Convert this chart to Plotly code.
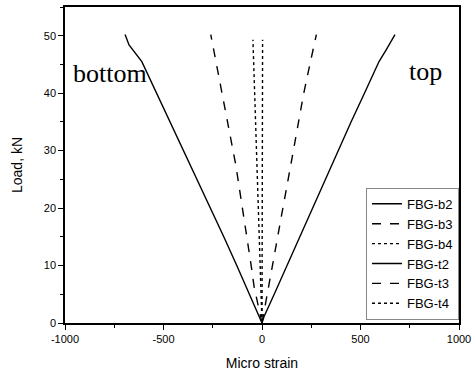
import plotly.graph_objects as go

# Data
load_b2 = [0, 5, 10, 15, 20, 25, 30, 35, 40, 45.5, 48.4, 50.2]
strain_b2 = [0, -62, -128, -194, -262, -332, -400, -466, -535, -610, -675, -695]

load_b3 = [0, 6.3, 10, 15, 20, 27.5, 35, 40, 45, 50.2]
strain_b3 = [0, -40, -55, -78, -100, -133, -175, -203, -232, -260]

load_b4 = [0, 10, 19.7, 32.7, 40, 49.3]
strain_b4 = [0, -10, -19, -32, -38, -46]

load_t2 = [0, 1.1, 5, 10, 17.9, 20, 27, 30, 35, 40, 45.5, 47.6, 50.2]
strain_t2 = [0, 10, 62, 127, 230, 258, 349, 385, 452, 520, 594, 631, 675]

load_t3 = [0, 7, 15, 20, 27.5, 35, 40, 45, 50.2]
strain_t3 = [0, 36, 80, 106, 146, 186, 212, 243, 276]

load_t4 = [0, 10, 20, 30, 40, 49.3]
strain_t4 = [0, 1, 2, 2, 3, 3]

series = [
    ("FBG-b2", strain_b2, load_b2, "solid"),
    ("FBG-b3", strain_b3, load_b3, "dash"),
    ("FBG-b4", strain_b4, load_b4, "dot"),
    ("FBG-t2", strain_t2, load_t2, "solid"),
    ("FBG-t3", strain_t3, load_t3, "dash"),
    ("FBG-t4", strain_t4, load_t4, "dot"),
]

x_ticks = [-1000, -500, 0, 500, 1000]
y_ticks = [0, 10, 20, 30, 40, 50]

fig = go.Figure()
for name, xs, ys, dash in series:
    fig.add_trace(go.Scatter(
        x=xs, y=ys, mode="lines", name=name,
        line=dict(color="black", width=1.4, dash=dash),
    ))

sans = "Liberation Sans, Arial, sans-serif"
serif = "Liberation Serif, Times New Roman, serif"
axis_font = dict(family=sans, size=11, color="black")

fig.update_layout(
    width=476, height=374,
    margin=dict(l=65, r=17, t=7, b=51),
    paper_bgcolor="white", plot_bgcolor="white",
    showlegend=True,
    legend=dict(
        x=1, y=0.01, xanchor="right", yanchor="bottom",
        bgcolor="white", bordercolor="#888888", borderwidth=1,
        font=dict(family=sans, size=13, color="black"),
        itemwidth=30, tracegroupgap=0,
    ),
    xaxis=dict(
        range=[-1000, 1000], tickvals=x_ticks, ticktext=[str(v) for v in x_ticks],
        showgrid=False, zeroline=False, showline=True, linecolor="black", linewidth=1.5,
        mirror=True, ticks="outside", ticklen=5, tickwidth=1, tickcolor="black",
        minor=dict(dtick=250, ticks="outside", ticklen=3, tickcolor="black", showgrid=False),
        tickfont=axis_font, automargin=False,
        title=dict(text="Micro strain", font=dict(family=sans, size=14, color="black"), standoff=14),
    ),
    yaxis=dict(
        range=[0, 55], tickvals=y_ticks, ticktext=[str(v) for v in y_ticks],
        showgrid=False, zeroline=False, showline=True, linecolor="black", linewidth=1.5,
        mirror=True, ticks="outside", ticklen=5, tickwidth=1, tickcolor="black",
        minor=dict(dtick=5, ticks="outside", ticklen=3, tickcolor="black", showgrid=False),
        tickfont=axis_font, automargin=False,
        title=dict(text="Load, kN", font=dict(family=sans, size=14, color="black"), standoff=18),
    ),
    annotations=[
        dict(text="bottom", x=-968, y=43.4, xref="x", yref="y", xanchor="left", yanchor="middle",
             showarrow=False, font=dict(family=serif, size=26, color="black")),
        dict(text="top", x=924, y=43.7, xref="x", yref="y", xanchor="right", yanchor="middle",
             showarrow=False, font=dict(family=serif, size=26, color="black")),
    ],
)

# remove the browser's default 8px page margin so the figure fills the window exactly
fig.write_html(
    "out.html",
    config={"displayModeBar": False},
    post_script="document.body.style.margin='0';document.body.style.overflow='hidden';",
)
